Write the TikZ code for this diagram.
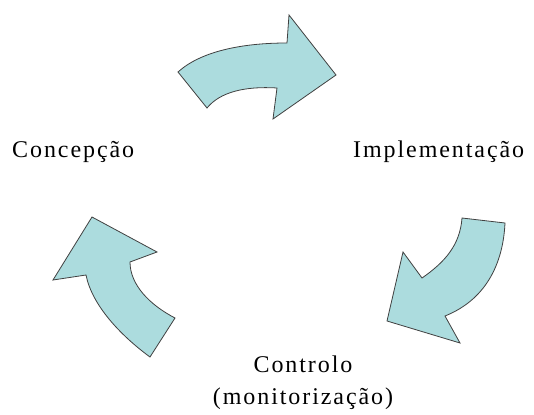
\documentclass[tikz,border=0pt]{standalone}
\usepackage{fontspec}
\setmainfont{Liberation Serif}[LetterSpace=8]
\begin{document}
\begin{tikzpicture}[x=1pt,y=-1pt,
  blockarrow/.style={fill={rgb,255:red,172;green,220;blue,222}, draw=black!75, line width=0.8pt, line join=miter},
  label/.style={inner sep=0pt, font=\fontsize{24}{28}\selectfont}]
  \path[use as bounding box, fill=white] (0,0) rectangle (534,414);

  % curved block arrow at the top (Concepcao -> Implementacao)
  \path[blockarrow] (178,72) .. controls (200,52) and (240,43) .. (287,43)
    -- (289,15) -- (336,75) -- (273,119) -- (277,88)
    .. controls (245,86) and (220,92) .. (207,108) -- cycle;

  % curved block arrow on the right (Implementacao -> Controlo)
  \path[blockarrow] (462,218) -- (505,223)
    .. controls (503,265) and (485,300) .. (445,316)
    -- (460,343) -- (387,321) -- (403,252) -- (422,278)
    .. controls (445,262) and (460,245) .. (462,218) -- cycle;

  % curved block arrow on the left (Controlo -> Concepcao)
  \path[blockarrow] (92,217) -- (157,252) -- (130,262)
    .. controls (130,285) and (150,305) .. (175,318)
    -- (150,357)
    .. controls (120,335) and (92,305) .. (86,275)
    -- (53,280) -- cycle;

  \node[label, anchor=base west] (concepcao) at (12,157) {Concepção};
  \node[label, anchor=base west] (implementacao) at (353,157) {Implementação};
  \node[label, anchor=base] (controlo) at (303,372) {Controlo};
  \node[label, anchor=base] (monitorizacao) at (303,404) {(monitorização)};
\end{tikzpicture}
\end{document}
